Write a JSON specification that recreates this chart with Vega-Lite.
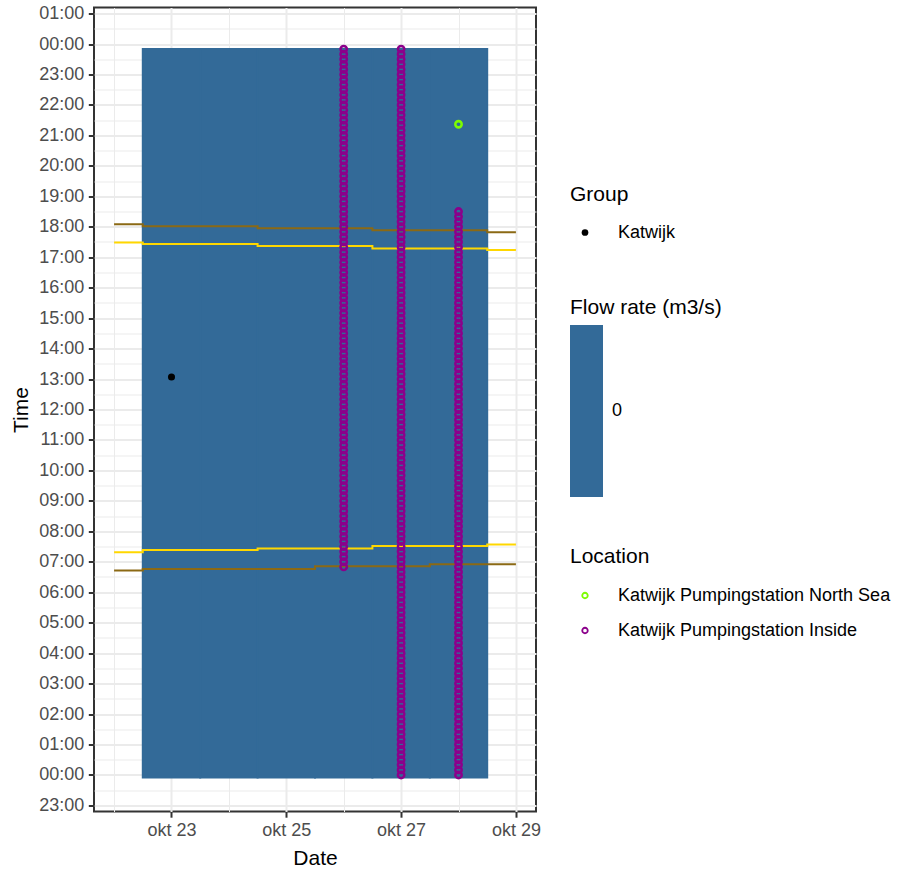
{
  "$schema": "https://vega.github.io/schema/vega-lite/v6.json",
  "width": 442,
  "height": 804,
  "autosize": {"type": "none"},
  "padding": {"left": 94, "top": 7.5, "right": 365, "bottom": 62.5},
  "background": "white",
  "config": {
    "font": "Liberation Sans",
    "view": {"stroke": "#333333", "strokeWidth": 2},
    "axis": {
      "domain": false,
      "gridColor": "#EBEBEB",
      "tickColor": "#333333",
      "tickSize": 5.7,
      "tickWidth": 2,
      "labelColor": "#4D4D4D",
      "labelFont": "Liberation Sans",
      "labelFontSize": 18,
      "labelPadding": 4.6,
      "titleFont": "Liberation Sans",
      "titleFontSize": 21,
      "titleFontWeight": "normal",
      "titleColor": "black"
    },
    "legend": {
      "titleFont": "Liberation Sans",
      "titleFontSize": 21,
      "titleFontWeight": "normal",
      "titleColor": "black",
      "labelFont": "Liberation Sans",
      "labelFontSize": 18,
      "labelColor": "black",
      "labelLimit": 0,
      "padding": 0
    }
  },
  "datasets": {
    "tiles": [
      {"d": "2023-10-22T12:00:00Z", "d2": "2023-10-23T12:00:00Z", "m": -5, "m2": 1430, "flow": 0},
      {"d": "2023-10-23T12:00:00Z", "d2": "2023-10-24T12:00:00Z", "m": -5, "m2": 1430, "flow": 0},
      {"d": "2023-10-24T12:00:00Z", "d2": "2023-10-25T12:00:00Z", "m": -5, "m2": 1430, "flow": 0},
      {"d": "2023-10-25T12:00:00Z", "d2": "2023-10-26T12:00:00Z", "m": -5, "m2": 1430, "flow": 0},
      {"d": "2023-10-26T12:00:00Z", "d2": "2023-10-27T12:00:00Z", "m": -5, "m2": 1430, "flow": 0},
      {"d": "2023-10-27T12:00:00Z", "d2": "2023-10-28T12:00:00Z", "m": -5, "m2": 1430, "flow": 0}
    ],
    "sun": [
      {"k": "civil", "p": "pm", "d": "2023-10-22", "m": 1085},
      {"k": "civil", "p": "pm", "d": "2023-10-23", "m": 1081},
      {"k": "civil", "p": "pm", "d": "2023-10-24", "m": 1081},
      {"k": "civil", "p": "pm", "d": "2023-10-25", "m": 1077},
      {"k": "civil", "p": "pm", "d": "2023-10-26", "m": 1077},
      {"k": "civil", "p": "pm", "d": "2023-10-27", "m": 1073},
      {"k": "civil", "p": "pm", "d": "2023-10-28", "m": 1073},
      {"k": "civil", "p": "pm", "d": "2023-10-29", "m": 1069},
      {"k": "civil", "p": "am", "d": "2023-10-22", "m": 403},
      {"k": "civil", "p": "am", "d": "2023-10-23", "m": 406},
      {"k": "civil", "p": "am", "d": "2023-10-24", "m": 406},
      {"k": "civil", "p": "am", "d": "2023-10-25", "m": 406},
      {"k": "civil", "p": "am", "d": "2023-10-26", "m": 411},
      {"k": "civil", "p": "am", "d": "2023-10-27", "m": 411},
      {"k": "civil", "p": "am", "d": "2023-10-28", "m": 415},
      {"k": "civil", "p": "am", "d": "2023-10-29", "m": 415},
      {"k": "sun", "p": "pm", "d": "2023-10-22", "m": 1049},
      {"k": "sun", "p": "pm", "d": "2023-10-23", "m": 1046},
      {"k": "sun", "p": "pm", "d": "2023-10-24", "m": 1046},
      {"k": "sun", "p": "pm", "d": "2023-10-25", "m": 1042},
      {"k": "sun", "p": "pm", "d": "2023-10-26", "m": 1042},
      {"k": "sun", "p": "pm", "d": "2023-10-27", "m": 1037},
      {"k": "sun", "p": "pm", "d": "2023-10-28", "m": 1037},
      {"k": "sun", "p": "pm", "d": "2023-10-29", "m": 1034},
      {"k": "sun", "p": "am", "d": "2023-10-22", "m": 439},
      {"k": "sun", "p": "am", "d": "2023-10-23", "m": 443},
      {"k": "sun", "p": "am", "d": "2023-10-24", "m": 443},
      {"k": "sun", "p": "am", "d": "2023-10-25", "m": 446},
      {"k": "sun", "p": "am", "d": "2023-10-26", "m": 446},
      {"k": "sun", "p": "am", "d": "2023-10-27", "m": 451},
      {"k": "sun", "p": "am", "d": "2023-10-28", "m": 451},
      {"k": "sun", "p": "am", "d": "2023-10-29", "m": 454}
    ],
    "group": [
      {"group": "Katwijk", "d": "2023-10-23", "m": 784}
    ],
    "locs": [
      {"loc": "Katwijk Pumpingstation North Sea", "d": "2023-10-28", "m": [1282]},
      {"loc": "Katwijk Pumpingstation Inside", "d": "2023-10-26", "m": [410,420,430,440,450,460,470,480,490,500,510,520,530,540,550,560,570,580,590,600,610,620,630,640,650,660,670,680,690,700,710,720,730,740,750,760,770,780,790,800,810,820,830,840,850,860,870,880,890,900,910,920,930,940,950,960,970,980,990,1000,1010,1020,1030,1040,1050,1060,1070,1080,1090,1100,1110,1120,1130,1140,1150,1160,1170,1180,1190,1200,1210,1220,1230,1240,1250,1260,1270,1280,1290,1300,1310,1320,1330,1340,1350,1360,1370,1380,1390,1400,1410,1420,1430]},
      {"loc": "Katwijk Pumpingstation Inside", "d": "2023-10-27", "m": [0,10,20,30,40,50,60,70,80,90,100,110,120,130,140,150,160,170,180,190,200,210,220,230,240,250,260,270,280,290,300,310,320,330,340,350,360,370,380,390,400,410,420,430,440,450,460,470,480,490,500,510,520,530,540,550,560,570,580,590,600,610,620,630,640,650,660,670,680,690,700,710,720,730,740,750,760,770,780,790,800,810,820,830,840,850,860,870,880,890,900,910,920,930,940,950,960,970,980,990,1000,1010,1020,1030,1040,1050,1060,1070,1080,1090,1100,1110,1120,1130,1140,1150,1160,1170,1180,1190,1200,1210,1220,1230,1240,1250,1260,1270,1280,1290,1300,1310,1320,1330,1340,1350,1360,1370,1380,1390,1400,1410,1420,1430]},
      {"loc": "Katwijk Pumpingstation Inside", "d": "2023-10-28", "m": [0,10,20,30,40,50,60,70,80,90,100,110,120,130,140,150,160,170,180,190,200,210,220,230,240,250,260,270,280,290,300,310,320,330,340,350,360,370,380,390,400,410,420,430,440,450,460,470,480,490,500,510,520,530,540,550,560,570,580,590,600,610,620,630,640,650,660,670,680,690,700,710,720,730,740,750,760,770,780,790,800,810,820,830,840,850,860,870,880,890,900,910,920,930,940,950,960,970,980,990,1000,1010,1020,1030,1040,1050,1060,1070,1080,1090,1100,1110]}
    ]
  },
  "encoding": {
    "x": {
      "field": "d",
      "type": "temporal",
      "title": "Date",
      "scale": {
        "type": "utc",
        "domain": [
          {"year": 2023, "month": 10, "date": 21, "hours": 15, "minutes": 36, "utc": true},
          {"year": 2023, "month": 10, "date": 29, "hours": 8, "minutes": 24, "utc": true}
        ]
      },
      "axis": {
        "values": [
          {"year": 2023, "month": 10, "date": 22, "utc": true},
          {"year": 2023, "month": 10, "date": 23, "utc": true},
          {"year": 2023, "month": 10, "date": 24, "utc": true},
          {"year": 2023, "month": 10, "date": 25, "utc": true},
          {"year": 2023, "month": 10, "date": 26, "utc": true},
          {"year": 2023, "month": 10, "date": 27, "utc": true},
          {"year": 2023, "month": 10, "date": 28, "utc": true},
          {"year": 2023, "month": 10, "date": 29, "utc": true}
        ],
        "labelExpr": "utcdate(datum.value) % 2 == 1 ? 'okt ' + utcdate(datum.value) : ''",
        "tickOpacity": {"condition": {"test": "utcdate(datum.value) % 2 == 1", "value": 1}, "value": 0},
        "gridWidth": {"condition": {"test": "utcdate(datum.value) % 2 == 1", "value": 2}, "value": 1},
        "labelFlush": false,
        "labelOverlap": false,
        "titlePadding": 8
      }
    },
    "y": {
      "field": "m",
      "type": "quantitative",
      "title": "Time",
      "scale": {"domain": [-72, 1512], "nice": false, "zero": false},
      "axis": {
        "values": [-60,-30,0,30,60,90,120,150,180,210,240,270,300,330,360,390,420,450,480,510,540,570,600,630,660,690,720,750,780,810,840,870,900,930,960,990,1020,1050,1080,1110,1140,1170,1200,1230,1260,1290,1320,1350,1380,1410,1440,1470,1500],
        "labelExpr": "datum.value % 60 != 0 ? '' : ((((datum.value/60)%24)+24)%24 < 10 ? '0' : '') + ((((datum.value/60)%24)+24)%24) + ':00'",
        "tickOpacity": {"condition": {"test": "datum.value % 60 == 0", "value": 1}, "value": 0},
        "gridWidth": {"condition": {"test": "datum.value % 60 == 0", "value": 2}, "value": 1},
        "labelOverlap": false,
        "labelFlush": false,
        "titlePadding": 7
      }
    }
  },
  "layer": [
    {
      "data": {"name": "tiles"},
      "mark": {"type": "rect", "strokeWidth": 2, "stroke": "#336A98"},
      "encoding": {
        "x2": {"field": "d2"},
        "y2": {"field": "m2"},
        "fill": {
          "field": "flow",
          "type": "quantitative",
          "scale": {"domain": [-1, 1], "range": ["#336A98", "#336A98"]},
          "legend": {
            "title": "Flow rate (m3/s)",
            "orient": "none",
            "direction": "vertical",
            "legendX": 476,
            "legendY": 289,
            "gradientLength": 172,
            "gradientThickness": 33,
            "gradientStrokeWidth": 0,
            "values": [0],
            "labelOffset": 9,
            "titlePadding": 7.5
          }
        }
      }
    },
    {
      "data": {"name": "sun"},
      "transform": [{"filter": "datum.k == 'civil'"}],
      "mark": {"type": "line", "interpolate": "step", "color": "#8B6914", "strokeWidth": 2},
      "encoding": {"detail": {"field": "p"}}
    },
    {
      "data": {"name": "sun"},
      "transform": [{"filter": "datum.k == 'sun'"}],
      "mark": {"type": "line", "interpolate": "step", "color": "#FFD700", "strokeWidth": 2},
      "encoding": {"detail": {"field": "p"}}
    },
    {
      "data": {"name": "group"},
      "mark": {"type": "point", "filled": true, "size": 50, "opacity": 1},
      "encoding": {
        "color": {
          "field": "group",
          "type": "nominal",
          "scale": {"range": ["black"]},
          "legend": {
            "title": "Group",
            "orient": "none",
            "direction": "vertical",
            "legendX": 476,
            "legendY": 176,
            "symbolType": "circle",
            "symbolSize": 45,
            "symbolOffset": 6,
            "labelOffset": 24,
            "titlePadding": 19
          }
        }
      }
    },
    {
      "data": {"name": "locs"},
      "transform": [{"flatten": ["m"]}],
      "mark": {"type": "point", "filled": false, "size": 40, "strokeWidth": 2.6, "opacity": 1},
      "encoding": {
        "stroke": {
          "field": "loc",
          "type": "nominal",
          "scale": {
            "domain": ["Katwijk Pumpingstation North Sea", "Katwijk Pumpingstation Inside"],
            "range": ["#7CFC00", "#8B008B"]
          },
          "legend": {
            "title": "Location",
            "orient": "none",
            "direction": "vertical",
            "legendX": 476,
            "legendY": 538,
            "symbolType": "circle",
            "symbolSize": 30,
            "symbolStrokeWidth": 1.8,
            "symbolOffset": 6,
            "labelOffset": 24,
            "titlePadding": 20,
            "rowPadding": 17
          }
        }
      }
    }
  ]
}
